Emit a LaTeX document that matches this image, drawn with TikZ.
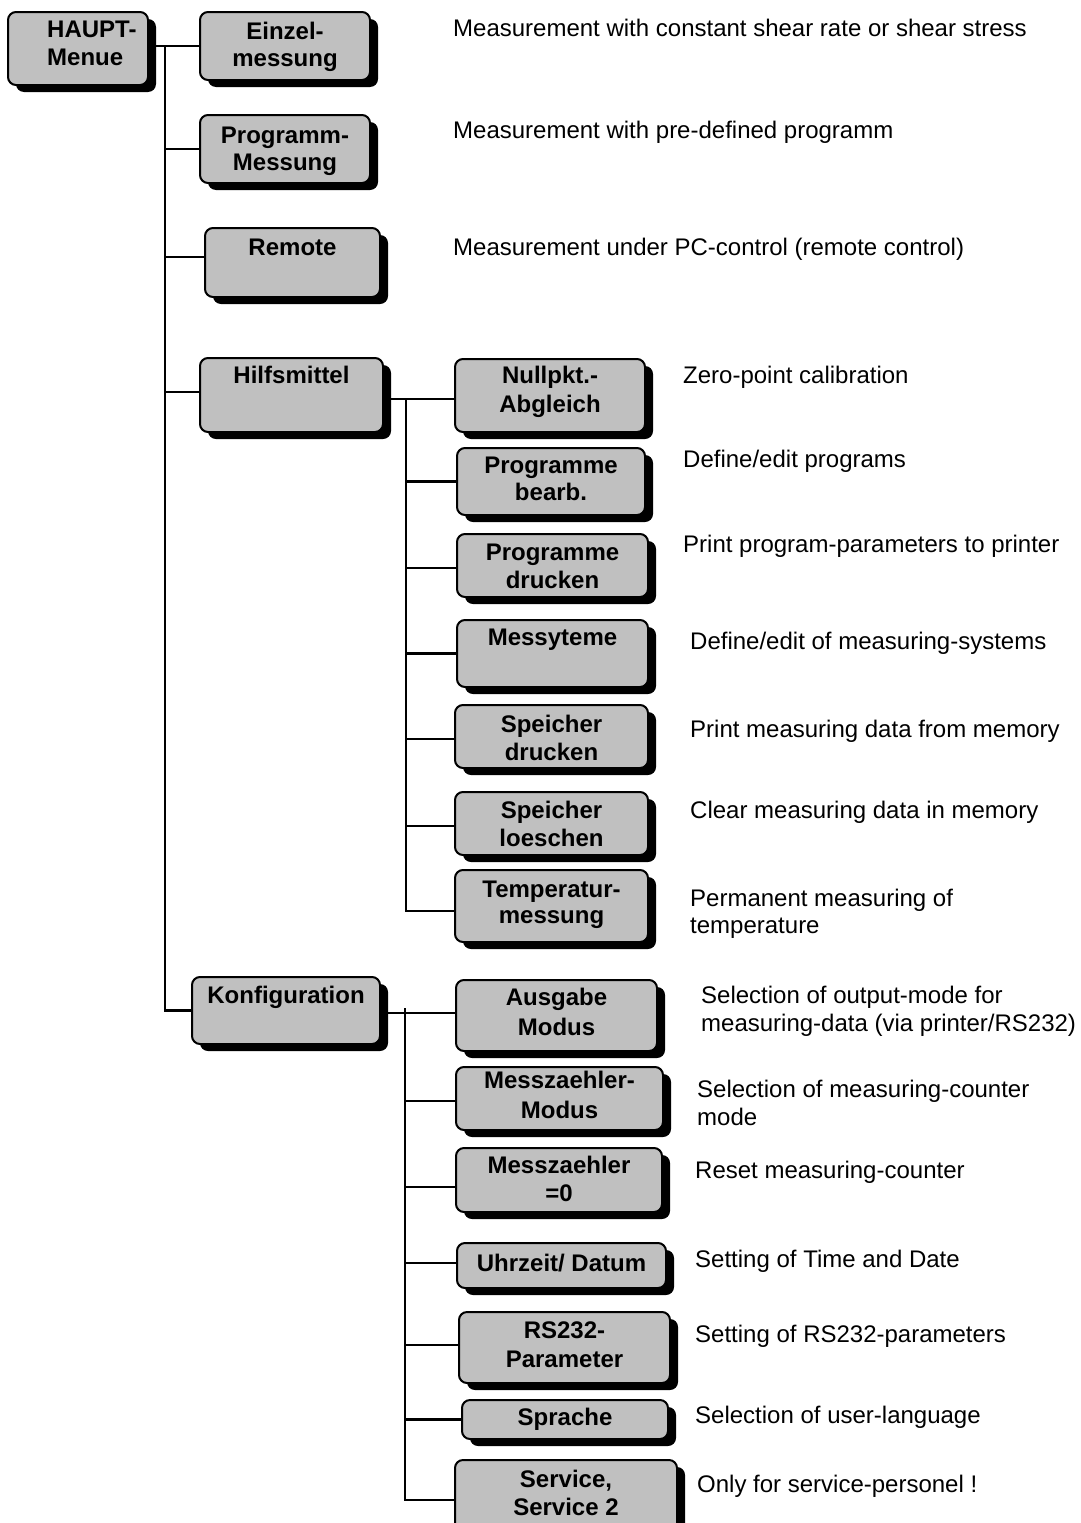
\documentclass[tikz,border=0pt]{standalone}
\usepackage{fontspec}
\setmainfont{Liberation Sans}
\usetikzlibrary{shadows,calc}
\definecolor{boxgray}{RGB}{192,192,192}
\tikzset{
  menubox/.style={draw=black, line width=2pt, fill=boxgray, rounded corners=8pt, inner sep=0pt,
    drop shadow={shadow xshift=8pt, shadow yshift=-7pt, fill=black, opacity=1}},
  btext/.style={font=\fontsize{24}{28}\selectfont\bfseries, inner sep=0pt, anchor=base},
  dtext/.style={font=\fontsize{24}{28}\selectfont, inner sep=0pt, anchor=base west},
  conn/.style={line width=2.2pt},
}
\newcommand\menunode[5]{%
  \node[menubox, minimum width={(#4)-(#2)}, minimum height={(#5)-(#3)}] (#1) at ({((#2)+(#4))/2},{((#3)+(#5))/2}) {};}
\begin{document}
\begin{tikzpicture}[x=1pt,y=-1pt]
\useasboundingbox (0,0) rectangle (1081,1523);
\clip (0,0) rectangle (1081,1523);

% ---- boxes ----
\menunode{haupt}{8}{12}{148}{85}
\menunode{einzel}{200}{12}{370}{80}
\menunode{progmess}{200}{115}{370}{183}
\menunode{remote}{205}{228}{380}{297}
\menunode{hilfs}{200}{358}{383}{432}
\menunode{konfig}{192}{977}{380}{1044}
\menunode{nullpkt}{455}{359}{645}{432}
\menunode{progbearb}{457}{448}{645}{515}
\menunode{progdruck}{457}{534}{648}{597}
\menunode{messy}{457}{620}{648}{687}
\menunode{spdruck}{455}{705}{648}{768}
\menunode{sploesch}{455}{792}{648}{855}
\menunode{temp}{455}{870}{648}{942}
\menunode{ausgabe}{456}{980}{657}{1051}
\menunode{mzmodus}{456}{1067}{663}{1130}
\menunode{mzzero}{456}{1148}{662}{1212}
\menunode{uhrzeit}{457}{1243}{666}{1288}
\menunode{rsparam}{459}{1312}{670}{1383}
\menunode{sprache}{462}{1400}{668}{1439}
\menunode{service}{455}{1460}{677}{1545}

% ---- box texts ----
\node[btext, anchor=base west] (haupt-a) at (47,37) {HAUPT-};
\node[btext, anchor=base west] (haupt-b) at (47,65) {Menue};
\node[btext] (einzel-a) at (285,39) {Einzel-};
\node[btext] (einzel-b) at (285,66) {messung};
\node[btext] (progmess-a) at (285,143) {Programm-};
\node[btext] (progmess-b) at (285,170) {Messung};
\node[btext] (remote-a) at (292.5,255) {Remote};
\node[btext] (hilfs-a) at (291.5,383) {Hilfsmittel};
\node[btext] (konfig-a) at (286,1003) {Konfiguration};
\node[btext] (nullpkt-a) at (550,383) {Nullpkt.-};
\node[btext] (nullpkt-b) at (550,412) {Abgleich};
\node[btext] (progbearb-a) at (551,473) {Programme};
\node[btext] (progbearb-b) at (551,500) {bearb.};
\node[btext] (progdruck-a) at (552.5,560) {Programme};
\node[btext] (progdruck-b) at (552.5,588) {drucken};
\node[btext] (messy-a) at (552.5,645) {Messyteme};
\node[btext] (spdruck-a) at (551.5,732) {Speicher};
\node[btext] (spdruck-b) at (551.5,760) {drucken};
\node[btext] (sploesch-a) at (551.5,818) {Speicher};
\node[btext] (sploesch-b) at (551.5,846) {loeschen};
\node[btext] (temp-a) at (551.5,897) {Temperatur-};
\node[btext] (temp-b) at (551.5,923) {messung};
\node[btext] (ausgabe-a) at (556.5,1005) {Ausgabe};
\node[btext] (ausgabe-b) at (556.5,1035) {Modus};
\node[btext] (mzmodus-a) at (559.5,1088) {Messzaehler-};
\node[btext] (mzmodus-b) at (559.5,1118) {Modus};
\node[btext] (mzzero-a) at (559,1173) {Messzaehler};
\node[btext] (mzzero-b) at (559,1201) {=0};
\node[btext] (uhrzeit-a) at (561.5,1271) {Uhrzeit/ Datum};
\node[btext] (rsparam-a) at (564.5,1338) {RS232-};
\node[btext] (rsparam-b) at (564.5,1367) {Parameter};
\node[btext] (sprache-a) at (565,1425) {Sprache};
\node[btext] (service-a) at (566,1487) {Service,};
\node[btext] (service-b) at (566,1515) {Service 2};

% ---- descriptions ----
\node[dtext] (d-einzel) at (453,36) {Measurement with constant shear rate or shear stress};
\node[dtext] (d-progmess) at (453,138) {Measurement with pre-defined programm};
\node[dtext] (d-remote) at (453,255) {Measurement under PC-control (remote control)};
\node[dtext] (d-nullpkt) at (683,383) {Zero-point calibration};
\node[dtext] (d-progbearb) at (683,467) {Define/edit programs};
\node[dtext] (d-progdruck) at (683,552) {Print program-parameters to printer};
\node[dtext] (d-messy) at (690,649) {Define/edit of measuring-systems};
\node[dtext] (d-spdruck) at (690,737) {Print measuring data from memory};
\node[dtext] (d-sploesch) at (690,818) {Clear measuring data in memory};
\node[dtext] (d-temp-a) at (690,906) {Permanent measuring of};
\node[dtext] (d-temp-b) at (690,933) {temperature};
\node[dtext] (d-ausgabe-a) at (701,1003) {Selection of output-mode for};
\node[dtext] (d-ausgabe-b) at (701,1031) {measuring-data (via printer/RS232)};
\node[dtext] (d-mzmodus-a) at (697,1097) {Selection of measuring-counter};
\node[dtext] (d-mzmodus-b) at (697,1125) {mode};
\node[dtext] (d-mzzero) at (695,1178) {Reset measuring-counter};
\node[dtext] (d-uhrzeit) at (695,1267) {Setting of Time and Date};
\node[dtext] (d-rsparam) at (695,1342) {Setting of RS232-parameters};
\node[dtext] (d-sprache) at (695,1423) {Selection of user-language};
\node[dtext] (d-service) at (697,1492) {Only for service-personel !};

% ---- attachment points on the boxes ----
\coordinate (remote-in)    at ([yshift=5.5pt]remote.west);
\coordinate (hilfs-in)     at ([yshift=3pt]hilfs.west);
\coordinate (nullpkt-in)   at ([yshift=-3.5pt]nullpkt.west);
\coordinate (progdruck-in) at ([yshift=-2.5pt]progdruck.west);
\coordinate (spdruck-in)   at ([yshift=-2.5pt]spdruck.west);
\coordinate (sploesch-in)  at ([yshift=-2.5pt]sploesch.west);
\coordinate (temp-in)      at ([yshift=-5pt]temp.west);
\coordinate (ausgabe-in)   at ([yshift=2.5pt]ausgabe.west);
\coordinate (mzmodus-in)   at ([yshift=-2.5pt]mzmodus.west);
\coordinate (mzzero-in)    at ([yshift=-7pt]mzzero.west);
\coordinate (uhrzeit-in)   at ([yshift=2.5pt]uhrzeit.west);
\coordinate (rsparam-in)   at ([yshift=2.5pt]rsparam.west);
\coordinate (service-in)   at ([yshift=2.5pt]service.west);

% ---- connectors: main level ----
\coordinate (trunk) at (165,46);
\draw[conn] (haupt.east |- einzel.west) -- (einzel.west);
\draw[conn] (trunk |- einzel.west) |- (konfig.west);
\draw[conn] (trunk |- progmess.west) -- (progmess.west);
\draw[conn] (trunk |- remote-in) -- (remote-in);
\draw[conn] (trunk |- hilfs-in) -- (hilfs-in);

% ---- connectors: Hilfsmittel ----
\coordinate (htrunk) at (406,399);
\draw[conn] (hilfs.east |- nullpkt-in) -- (nullpkt-in);
\draw[conn] (htrunk |- nullpkt-in) |- (temp-in);
\draw[conn] (htrunk |- progbearb.west) -- (progbearb.west);
\draw[conn] (htrunk |- progdruck-in) -- (progdruck-in);
\draw[conn] (htrunk |- messy.west) -- (messy.west);
\draw[conn] (htrunk |- spdruck-in) -- (spdruck-in);
\draw[conn] (htrunk |- sploesch-in) -- (sploesch-in);

% ---- connectors: Konfiguration ----
\coordinate (ktrunk) at (405,1008);
\draw[conn] (konfig.east |- ausgabe-in) -- (ausgabe-in);
\draw[conn] (ktrunk) |- (service-in);
\draw[conn] (ktrunk |- mzmodus-in) -- (mzmodus-in);
\draw[conn] (ktrunk |- mzzero-in) -- (mzzero-in);
\draw[conn] (ktrunk |- uhrzeit-in) -- (uhrzeit-in);
\draw[conn] (ktrunk |- rsparam-in) -- (rsparam-in);
\draw[conn] (ktrunk |- sprache.west) -- (sprache.west);
\end{tikzpicture}
\end{document}
